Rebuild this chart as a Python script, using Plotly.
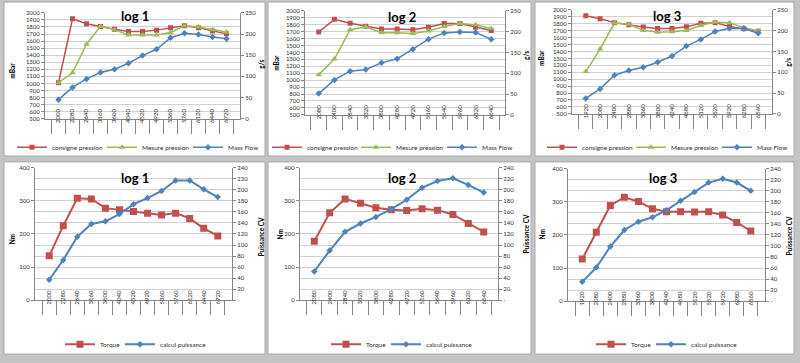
import plotly.graph_objects as go

W, H = 800, 363

# ---------------- data ----------------
rpm1 = ["2000", "2280", "2640", "3160", "3600", "4040", "4520", "4920", "5360", "5760", "6120", "6440", "6720"]
rpm2 = ["2080", "2400", "2840", "3320", "3800", "4280", "4720", "5160", "5640", "5960", "6320", "6640"]
rpm3 = ["1920", "2080", "2400", "2880", "3360", "3800", "4240", "4680", "5120", "5520", "5920", "6280", "6560"]

consigne1 = [1010, 1916, 1845, 1805, 1768, 1737, 1737, 1755, 1790, 1818, 1790, 1744, 1702]
mesure1 = [1010, 1150, 1555, 1808, 1762, 1685, 1685, 1685, 1722, 1816, 1800, 1760, 1730]
mass1 = [45, 74, 94, 109, 117, 131, 149, 164, 191, 202, 199, 193, 189]

consigne2 = [1695, 1878, 1820, 1778, 1738, 1738, 1728, 1765, 1816, 1816, 1765, 1718]
mesure2 = [1080, 1305, 1728, 1770, 1685, 1685, 1672, 1710, 1775, 1816, 1798, 1745]
mass2 = [51, 84, 105, 109, 125, 135, 158, 182, 197, 199, 198, 182]

consigne3 = [1915, 1873, 1816, 1785, 1752, 1732, 1732, 1755, 1807, 1816, 1760, 1726, 1690]
mesure3 = [1110, 1435, 1812, 1792, 1704, 1676, 1684, 1704, 1775, 1825, 1816, 1742, 1694]
mass3 = [37, 60, 93, 104, 112, 124, 139, 163, 179, 198, 206, 205, 194]

torque1 = [134, 225, 308, 306, 278, 273, 268, 263, 257, 263, 247, 217, 194]
puiss1 = [37, 73, 115, 138, 143, 156, 174, 185, 198, 217, 217, 201, 187]
torque2 = [178, 264, 306, 293, 279, 273, 271, 276, 272, 259, 232, 206]
puiss2 = [52, 90, 124, 139, 151, 165, 182, 204, 216, 221, 209, 195]
torque3 = [127, 208, 289, 314, 301, 279, 270, 270, 269, 270, 260, 238, 212]
puiss3 = [35, 61, 99, 129, 144, 152, 165, 182, 198, 215, 222, 215, 200]

titles = ["log 1", "log 2", "log 3"]

press_ticks = list(range(500, 2001, 100))
flow_ticks = [0, 50, 100, 150, 200, 250]
torque_ticks = [0, 100, 200, 300, 400]
cv_ticks = list(range(0, 241, 20))
cv_ticktext = ["-"] + [str(v) for v in cv_ticks[1:]]

# ---------------- styles ----------------
RED = "#C0504D"
GREEN = "#9BBB59"
BLUE = "#4F81BD"
FONT = "Lato"
AXC = "#868686"
GRID = "#d0d0d0"
TXT = "#303030"


def fx(p):
    return p / W


def fy(p):
    return 1 - p / H


fig = go.Figure()

# plot areas in pixels: (x0, x1, ytop, ybottom)
top_areas = [(45, 240, 9, 117), (305, 505, 7, 113), (572, 772, 6, 112)]
bot_areas = [(35, 232, 167, 302), (300, 498, 167, 302), (568, 765, 168, 303)]
panels = [(4, 265, -2, 155), (268, 531, -2, 155), (535, 794, -2, 155),
          (4, 265, 161, 357), (268, 531, 161, 357), (535, 794, 161, 357)]

top_data = [(rpm1, consigne1, mesure1, mass1), (rpm2, consigne2, mesure2, mass2),
            (rpm3, consigne3, mesure3, mass3)]
bot_data = [(rpm1, torque1, puiss1), (rpm2, torque2, puiss2), (rpm3, torque3, puiss3)]

top_title_pos = [(135, 12), (402, 13), (667, 12)]
bot_title_pos = [(135, 177), (402, 177), (663, 177)]
# legend item symbol start positions (px) and legend row y
top_leg_x = [(17, 107, 193), (272, 361, 447), (547, 636, 722)]
top_leg_y = 146
bot_leg_x = [(65, 125), (331, 391), (596, 656)]
bot_leg_y = 347
top_lt = [(13, 68), (277, 60), (542, 55)]
top_rt = [(262, 62), (527, 53), (789, 60)]
bot_lt = [(12, 240), (280, 235), (542, 235)]
bot_rt = [(261, 238), (526, 235), (789, 237)]

shapes = []
for (x0, x1, y0, y1) in panels:
    shapes.append(dict(type="rect", xref="paper", yref="paper", x0=fx(x0), x1=fx(x1),
                       y0=fy(y1), y1=fy(y0), fillcolor="white",
                       line=dict(color="#a8a8a8", width=1), layer="below"))

annotations = []
layout = {}
leg_counter = [0]


def new_legend(sx, sy):
    leg_counter[0] += 1
    n = leg_counter[0]
    name = "legend" if n == 1 else f"legend{n}"
    layout[name] = dict(orientation="h", x=fx(sx - 5), y=fy(sy), xanchor="left", yanchor="middle",
                        font=dict(size=6.5, family=FONT, color=TXT), bgcolor="rgba(0,0,0,0)",
                        itemwidth=30, borderwidth=0)
    return name


def xaxis_cfg(dom, anchor):
    return dict(domain=dom, anchor=anchor, type="category", tickangle=-90,
                ticks="outside", tickson="boundaries", ticklen=14, tickcolor=AXC,
                ticklabelstandoff=-13,
                tickfont=dict(size=6, color=TXT, family=FONT), showline=True,
                linecolor=AXC, showgrid=False, zeroline=False, fixedrange=True)


def yaxis_cfg(dom, anchor, rng, tickvals, ticktext=None, grid=True, side="left", overlay=None):
    d = dict(domain=dom, anchor=anchor, range=rng, tickmode="array", tickvals=tickvals,
             ticks="outside", ticklen=3, tickcolor=AXC, side=side,
             tickfont=dict(size=6, color=TXT, family=FONT), showline=True, linecolor=AXC,
             showgrid=grid, gridcolor=GRID, gridwidth=1, zeroline=False, fixedrange=True)
    if ticktext is not None:
        d["ticktext"] = ticktext
    if overlay:
        d["overlaying"] = overlay
    return d


def title_ann(text, pos, size, angle=0):
    annotations.append(dict(text=f"<b>{text}</b>", x=fx(pos[0]), y=fy(pos[1]), xref="paper",
                            yref="paper", showarrow=False, textangle=angle,
                            xanchor="center", yanchor="middle",
                            font=dict(size=size, family=FONT, color="black")))


for i in range(3):
    k = i + 1
    xa, ya1, ya2 = f"x{k}", f"y{2*k-1}", f"y{2*k}"
    x0, x1, yt, yb = top_areas[i]
    cats, cons, mes, mass = top_data[i]
    lx = top_leg_x[i]
    fig.add_trace(go.Scatter(x=cats, y=cons, name="consigne pression", mode="lines+markers",
                             line=dict(color=RED, width=1.5), marker=dict(symbol="square", size=5, color=RED),
                             xaxis=xa, yaxis=ya1, legend=new_legend(lx[0], top_leg_y)))
    fig.add_trace(go.Scatter(x=cats, y=mes, name="Mesure pression", mode="lines+markers",
                             line=dict(color=GREEN, width=1.5), marker=dict(symbol="triangle-up", size=6, color=GREEN),
                             xaxis=xa, yaxis=ya1, legend=new_legend(lx[1], top_leg_y)))
    fig.add_trace(go.Scatter(x=cats, y=mass, name="Mass Flow", mode="lines+markers",
                             line=dict(color=BLUE, width=1.5), marker=dict(symbol="diamond", size=5, color=BLUE),
                             xaxis=xa, yaxis=ya2, legend=new_legend(lx[2], top_leg_y)))
    layout[f"xaxis{k}"] = xaxis_cfg([fx(x0), fx(x1)], ya1)
    layout[f"yaxis{2*k-1}"] = yaxis_cfg([fy(yb), fy(yt)], xa, [500, 2000], press_ticks)
    layout[f"yaxis{2*k}"] = yaxis_cfg([fy(yb), fy(yt)], xa, [0, 250], flow_ticks, grid=False,
                                      side="right", overlay=ya1)
    title_ann(titles[i], top_title_pos[i], 13)
    title_ann("mBar", top_lt[i], 6.5, -90)
    title_ann("g/s", top_rt[i], 6.5, -90)

for i in range(3):
    k = i + 4
    xa, ya1, ya2 = f"x{k}", f"y{2*k-1}", f"y{2*k}"
    x0, x1, yt, yb = bot_areas[i]
    cats, tq, pw = bot_data[i]
    lx = bot_leg_x[i]
    fig.add_trace(go.Scatter(x=cats, y=tq, name="Torque", mode="lines+markers",
                             line=dict(color=RED, width=2), marker=dict(symbol="square", size=7, color=RED),
                             xaxis=xa, yaxis=ya1, legend=new_legend(lx[0], bot_leg_y)))
    fig.add_trace(go.Scatter(x=cats, y=pw, name="calcul puissance", mode="lines+markers",
                             line=dict(color=BLUE, width=2), marker=dict(symbol="diamond", size=5, color=BLUE),
                             xaxis=xa, yaxis=ya2, legend=new_legend(lx[1], bot_leg_y)))
    layout[f"xaxis{k}"] = xaxis_cfg([fx(x0), fx(x1)], ya1)
    layout[f"yaxis{2*k-1}"] = yaxis_cfg([fy(yb), fy(yt)], xa, [0, 400], torque_ticks, grid=False)
    layout[f"yaxis{2*k}"] = yaxis_cfg([fy(yb), fy(yt)], xa, [0, 240], cv_ticks, cv_ticktext,
                                      grid=True, side="right", overlay=ya1)
    title_ann(titles[i], bot_title_pos[i], 13)
    title_ann("Nm", bot_lt[i], 6.5, -90)
    title_ann("Puissance CV", bot_rt[i], 6.5, -90)

fig.update_layout(**layout)
fig.update_layout(width=W, height=H, margin=dict(l=0, r=0, t=0, b=0),
                  paper_bgcolor="#c4c4c4", plot_bgcolor="rgba(0,0,0,0)",
                  shapes=shapes, annotations=annotations, showlegend=True,
                  font=dict(family=FONT, color=TXT))

fig.write_html("out.html", config={"displayModeBar": False, "staticPlot": True},
               post_script="document.body.style.margin='0';document.body.style.overflow='hidden';")
